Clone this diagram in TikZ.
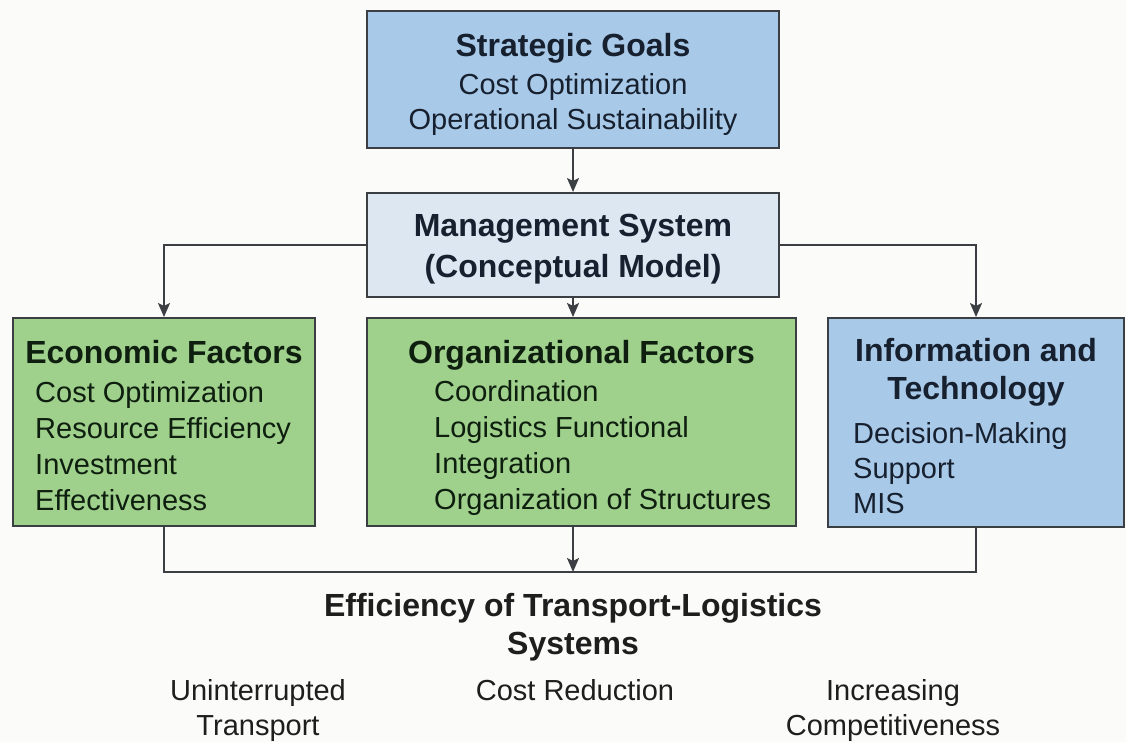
\documentclass[tikz,border=0pt]{standalone}
\usepackage{fontspec}
\setmainfont{Liberation Sans}
\usetikzlibrary{arrows.meta}
\definecolor{skyblue}{HTML}{A9C9E9}
\definecolor{paleblue}{HTML}{DCE7F2}
\definecolor{leafgreen}{HTML}{9FD08C}
\definecolor{edgegray}{HTML}{3B3F44}
\definecolor{inkblue}{HTML}{16202E}
\definecolor{inkgreen}{HTML}{0F1F0F}
\definecolor{inkgray}{HTML}{1E1E1E}
\definecolor{paper}{HTML}{FBFBFA}

\tikzset{
  box/.style={draw=edgegray, line width=2pt, inner sep=0pt},
  headtext/.style={font=\fontsize{32}{38}\selectfont\bfseries, align=center, inner sep=0pt, anchor=base},
  itemtext/.style={font=\fontsize{29}{36}\selectfont, inner sep=0pt, anchor=base west, align=left},
  link/.style={draw=edgegray, line width=2pt, -{Stealth[length=14pt,width=12pt,inset=3pt]}},
}

\begin{document}
\begin{tikzpicture}[x=1pt, y=-1pt]
  \fill[paper] (0,0) rectangle (1126,742);
  \useasboundingbox (0,0) rectangle (1126,742);

  % boxes
  \node[box, fill=skyblue, minimum width=412pt, minimum height=137pt] (goals) at (573,79.5) {};
  \node[box, fill=paleblue, minimum width=412pt, minimum height=104pt] (mgmt) at (573,245) {};
  \node[box, fill=leafgreen, minimum width=302pt, minimum height=208pt] (econ) at (164,422) {};
  \node[box, fill=leafgreen, minimum width=429pt, minimum height=208pt] (org) at (581.5,422) {};
  \node[box, fill=skyblue, minimum width=296pt, minimum height=209pt] (info) at (976,422.5) {};

  % box texts (multi-line nodes sit on the baseline of their last line)
  \node[headtext, text=inkblue] (goalshead) at (573,56.5) {Strategic Goals};
  \node[itemtext, text=inkblue, anchor=base, align=center,
        font=\fontsize{29}{35}\selectfont] (goalsitems) at (573,129.5)
        {Cost Optimization\\Operational Sustainability};
  \node[headtext, text=inkblue, font=\fontsize{32}{41}\selectfont\bfseries] (mgmthead) at (573,277.5)
        {Management System\\(Conceptual Model)};
  \node[headtext, text=inkgreen] (econhead) at (164,363.5) {Economic Factors};
  \node[itemtext, text=inkgreen] (econitems) at (35,510)
        {Cost Optimization\\Resource Efficiency\\Investment\\Effectiveness};
  \node[headtext, text=inkgreen] (orghead) at (581.5,363.5) {Organizational Factors};
  \node[itemtext, text=inkgreen] (orgitems) at (434,509)
        {Coordination\\Logistics Functional\\Integration\\Organization of Structures};
  \node[headtext, text=inkblue] (infohead) at (976,399.5) {Information and\\Technology};
  \node[itemtext, text=inkblue, font=\fontsize{29}{35}\selectfont] (infoitems) at (853,513.5)
        {Decision-Making\\Support\\MIS};

  % connectors
  \draw[link] (goals.south) -- (mgmt.north);
  \draw[link] (mgmt.west) -| (econ.north);
  \draw[link] (mgmt.south) -- (mgmt.south |- org.north);
  \draw[link] (mgmt.east) -| (info.north);
  \coordinate (bus) at (573,572);
  \draw[draw=edgegray, line width=2pt] (econ.south) |- (bus) -| (info.south);
  \draw[link] (bus |- org.south) -- (bus);

  % result
  \node[headtext, text=inkgray] (effect) at (573,654.5)
        {Efficiency of Transport-Logistics\\Systems};
  \node[itemtext, text=inkgray, anchor=base, align=center,
        font=\fontsize{29}{35}\selectfont] (uninterrupted) at (258,735.5)
        {Uninterrupted\\Transport};
  \node[itemtext, text=inkgray, anchor=base, align=center] (costcut) at (575,700.5)
        {Cost Reduction};
  \node[itemtext, text=inkgray, anchor=base, align=center,
        font=\fontsize{29}{35}\selectfont] (competitive) at (893,735.5)
        {Increasing\\Competitiveness};
\end{tikzpicture}
\end{document}
